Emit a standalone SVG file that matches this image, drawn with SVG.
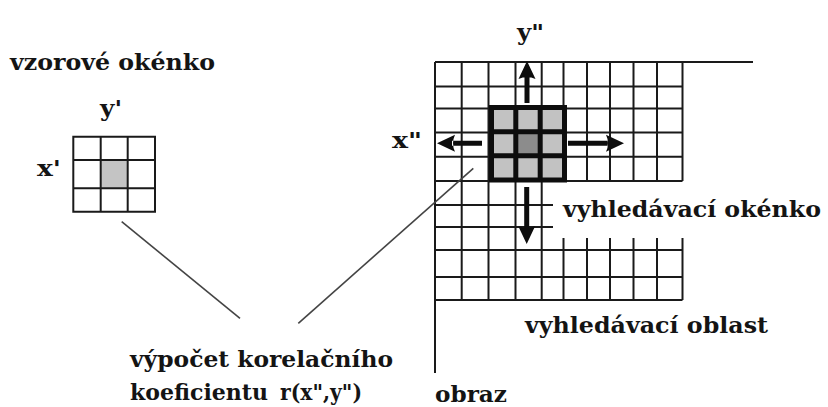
<svg xmlns="http://www.w3.org/2000/svg" width="828" height="407" viewBox="0 0 828 407">
<style>
  text { font-family: "DejaVu Serif", "Liberation Serif", serif; font-weight: bold; fill: #141414; }
  .lbl { font-size: 23px; }
  .grid { stroke: #1a1a1a; stroke-width: 2; fill: none; }
  .win { stroke: #0d0d0d; stroke-width: 5; fill: none; }
  .conn { stroke: #444; stroke-width: 1.6; fill: none; }
  .arrow { fill: #0d0d0d; }
</style>
<rect width="828" height="407" fill="#ffffff"/>

<g id="template-window">
  <rect x="100.7" y="160" width="27" height="28.3" fill="#c4c4c4"/>
  <path class="grid" d="M73.3,136.7H155V211.7H73.3Z M100.7,136.7V211.7 M127.7,136.7V211.7 M73.3,160H155 M73.3,188.3H155"/>
  <text class="lbl" x="10" y="70" textLength="205" lengthAdjust="spacingAndGlyphs">vzorové okénko</text>
  <text class="lbl" x="100" y="116" textLength="22" lengthAdjust="spacingAndGlyphs">y'</text>
  <text class="lbl" x="37" y="176" textLength="24" lengthAdjust="spacingAndGlyphs">x'</text>
</g>

<g id="search-area">
  <path class="grid" d="M435,62H753 M435,62V373
    M461.7,62V300 M488.5,62V300 M515.5,62V300 M541.7,62V300
    M563.5,62V181 M587,62V181 M610,62V181 M633.5,62V181 M657,62V181 M682.5,62V181
    M435,86.5H682.5 M435,108.5H682.5 M435,132.5H682.5 M435,156.7H682.5 M435,181H682.5
    M435,205H553 M435,227H553
    M563.5,238V300 M587,238V300 M610,238V300 M633.5,238V300 M657,238V300 M682.5,238V300
    M435,250H682.5 M435,277H682.5 M435,300H682.5"/>
  <text class="lbl" x="525" y="333" textLength="243" lengthAdjust="spacingAndGlyphs">vyhledávací oblast</text>
  <text class="lbl" x="435" y="402" textLength="72" lengthAdjust="spacingAndGlyphs">obraz</text>
</g>

<g id="search-window">
  <rect x="491.5" y="107.5" width="73" height="72.5" fill="#c2c2c2"/>
  <rect x="515.8" y="131.7" width="24.4" height="24.1" fill="#8c8c8c"/>
  <path class="win" d="M491.5,107.5H564.5V180H491.5Z M515.8,107.5V180 M540.2,107.5V180 M491.5,131.7H564.5 M491.5,155.8H564.5"/>
  <text class="lbl" x="563" y="217" textLength="258" lengthAdjust="spacingAndGlyphs">vyhledávací okénko</text>
  <text class="lbl" x="517" y="40" textLength="27" lengthAdjust="spacingAndGlyphs">y"</text>
  <text class="lbl" x="392" y="148" textLength="30" lengthAdjust="spacingAndGlyphs">x"</text>
</g>

<g id="arrows">
  <path class="arrow" d="M524.5,103V77H529.5V103Z M527,61L535.5,79Q527,75 518.5,79Z"/>
  <path class="arrow" d="M524.2,187V228H529.2V187Z M526.7,244L535.2,226Q526.7,230 518.2,226Z"/>
  <path class="arrow" d="M482,140.7H452V145.7H482Z M437,143.2L455,134.7Q451,143.2 455,151.7Z"/>
  <path class="arrow" d="M568,140.7H608V145.7H568Z M624,143.2L606,134.7Q610,143.2 606,151.7Z"/>
</g>

<g id="connectors">
  <line class="conn" x1="121.7" y1="221.7" x2="240" y2="318.3"/>
  <line class="conn" x1="298.3" y1="323.3" x2="473.3" y2="168.3"/>
</g>

<g id="correlation-label">
  <text class="lbl" x="130" y="367" textLength="263" lengthAdjust="spacingAndGlyphs">výpočet korelačního</text>
  <text class="lbl" x="130" y="400" textLength="138" lengthAdjust="spacingAndGlyphs">koeficientu</text>
  <text class="lbl" x="280" y="400" textLength="82" lengthAdjust="spacingAndGlyphs">r(x",y")</text>
</g>
</svg>
